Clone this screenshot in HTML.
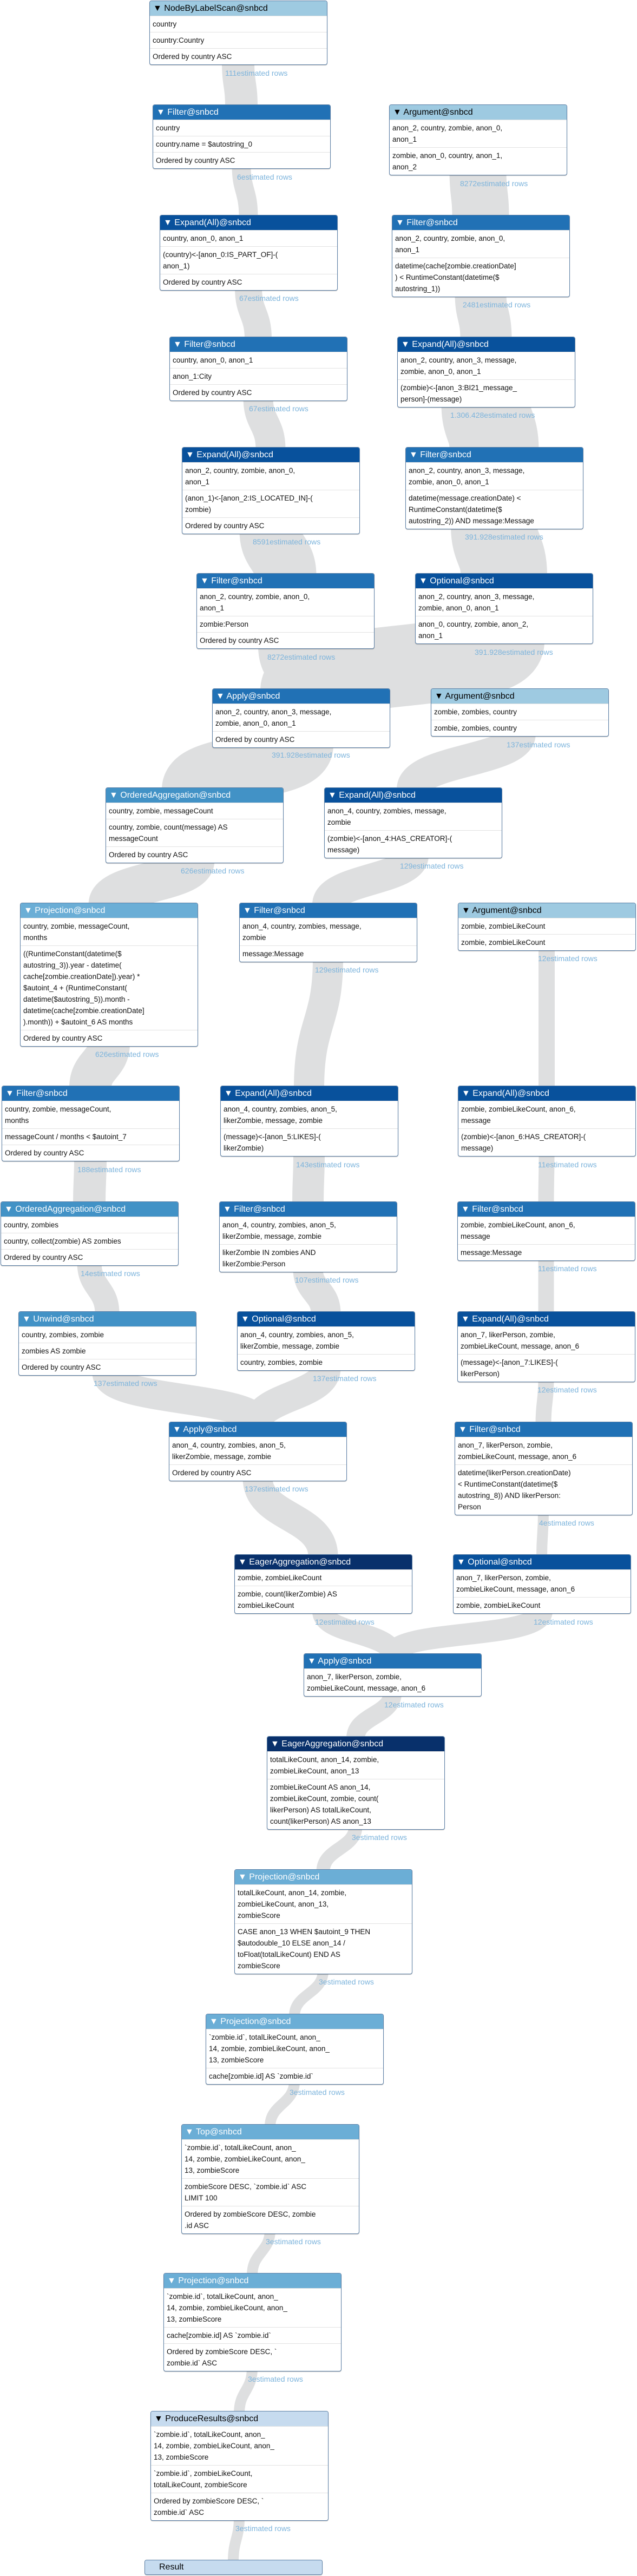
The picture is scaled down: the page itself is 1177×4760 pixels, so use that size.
<!DOCTYPE html>
<html><head><meta charset="utf-8">
<style>
body{margin:0;width:1177px;height:4760px;position:relative;background:#fff;overflow:hidden;font-family:"Liberation Sans",sans-serif}
svg{position:absolute;left:0;top:0}
.n{position:absolute;width:327px;border:1px solid #5b7fa6;border-radius:4px;background:#fff;overflow:hidden;box-shadow:0 1px 1px rgba(0,0,0,.25)}
.h{height:27px;line-height:28px;font-size:16px;padding-left:6px;color:#fff;white-space:nowrap}
.r{padding:4px 5px;line-height:21px;font-size:13.5px;border-top:1px solid #e2e2e2;white-space:nowrap;color:#111}
.c1{background:#9ecae1;color:#000}.c2{background:#2171b5}.c3{background:#08519c}.c4{background:#4292c6}.c5{background:#6baed6}.c6{background:#08306b}.c7{background:#c6dbef;color:#000}
.l{position:absolute;font-size:14px;color:#7db4dc;white-space:nowrap;line-height:18px}
</style></head><body>
<svg width="1177" height="4760" fill="none" stroke="#dedfe0">
<path stroke-width="60" d="M440 115 C440 156,446 156,446 197"/>
<path stroke-width="35" d="M446 307 C446 352,459 352,459 401"/>
<path stroke-width="50" d="M459 532 C459 579,477 579,477 626"/>
<path stroke-width="55" d="M477 735 C477 782,500 782,500 830"/>
<path stroke-width="115" d="M500 981 C500 1022,527 1022,527 1063"/>
<path stroke-width="100" d="M527 1194 C527 1235,556 1235,556 1276"/>
<path stroke-width="105" d="M883 318 C883 358,888 358,888 401"/>
<path stroke-width="95" d="M888 543 C888 582,898 582,898 626"/>
<path stroke-width="165" d="M898 747 C898 787,913 787,913 830"/>
<path stroke-width="160" d="M913 972 C913 1015,931 1015,931 1063"/>
<path stroke-width="150" d="M931 1185 C931 1235,556 1225,556 1276"/>
<path stroke-width="120" d="M556 1377 C556 1420,359 1415,359 1459"/>
<path stroke-width="60" d="M960 1355 C960 1405,763 1405,763 1459"/>
<path stroke-width="75" d="M359 1589 C359 1630,201 1630,201 1672"/>
<path stroke-width="58" d="M763 1580 C763 1625,606 1625,606 1672"/>
<path stroke-width="78" d="M201 1928 C201 1968,167 1968,167 2010"/>
<path stroke-width="56" d="M606 1772 C606 1890,571 1890,571 2010"/>
<path stroke-width="30" d="M1010 1751 C1010 1880,1010 1880,1010 2010"/>
<path stroke-width="60" d="M167 2141 C167 2182,165 2182,165 2224"/>
<path stroke-width="58" d="M571 2132 C571 2178,569 2178,569 2224"/>
<path stroke-width="29" d="M1010 2132 C1010 2178,1009 2178,1009 2224"/>
<path stroke-width="45" d="M165 2333 C165 2380,198 2380,198 2427"/>
<path stroke-width="55" d="M569 2345 C569 2386,602 2386,602 2427"/>
<path stroke-width="29" d="M1009 2324 C1009 2376,1009 2376,1009 2427"/>
<path stroke-width="55" d="M198 2537 C198 2590,476 2580,476 2631"/>
<path stroke-width="55" d="M602 2528 C602 2580,476 2580,476 2631"/>
<path stroke-width="29" d="M1009 2548 C1009 2590,1004 2590,1004 2631"/>
<path stroke-width="55" d="M476 2731 C476 2805,597 2800,597 2876"/>
<path stroke-width="20" d="M1004 2795 C1004 2835,1001 2835,1001 2876"/>
<path stroke-width="40" d="M597 2977 C597 3020,725 3015,725 3059"/>
<path stroke-width="40" d="M1001 2977 C1001 3030,725 3010,725 3059"/>
<path stroke-width="34" d="M725 3129 C725 3170,657 3170,657 3212"/>
<path stroke-width="25" d="M657 3375 C657 3416,597 3416,597 3458"/>
<path stroke-width="20" d="M597 3642 C597 3684,544 3684,544 3725"/>
<path stroke-width="20" d="M544 3846 C544 3888,499 3888,499 3929"/>
<path stroke-width="20" d="M499 4121 C499 4162,466 4162,466 4204"/>
<path stroke-width="20" d="M466 4376 C466 4418,442 4418,442 4459"/>
<path stroke-width="20" d="M442 4652 C442 4692,431 4692,431 4734"/>
</svg>

<div class="n" style="left:276px;top:1px"><div class="h c1">▼ NodeByLabelScan@snbcd</div><div class="r">country</div><div class="r">country:Country</div><div class="r">Ordered by country ASC</div></div>
<div class="l" style="left:416px;top:126px">111estimated rows</div>

<div class="n" style="left:282px;top:193px"><div class="h c2">▼ Filter@snbcd</div><div class="r">country</div><div class="r">country.name = $autostring_0</div><div class="r">Ordered by country ASC</div></div>
<div class="l" style="left:438px;top:318px">6estimated rows</div>

<div class="n" style="left:719px;top:193px"><div class="h c1">▼ Argument@snbcd</div><div class="r">anon_2, country, zombie, anon_0,<br>anon_1</div><div class="r">zombie, anon_0, country, anon_1,<br>anon_2</div></div>
<div class="l" style="left:850px;top:330px">8272estimated rows</div>

<div class="n" style="left:295px;top:397px"><div class="h c3">▼ Expand(All)@snbcd</div><div class="r">country, anon_0, anon_1</div><div class="r">(country)&lt;-[anon_0:IS_PART_OF]-(<br>anon_1)</div><div class="r">Ordered by country ASC</div></div>
<div class="l" style="left:442px;top:542px">67estimated rows</div>

<div class="n" style="left:724px;top:397px"><div class="h c2">▼ Filter@snbcd</div><div class="r">anon_2, country, zombie, anon_0,<br>anon_1</div><div class="r">datetime(cache[zombie.creationDate]<br>) &lt; RuntimeConstant(datetime($<br>autostring_1))</div></div>
<div class="l" style="left:855px;top:554px">2481estimated rows</div>

<div class="n" style="left:313px;top:622px"><div class="h c2">▼ Filter@snbcd</div><div class="r">country, anon_0, anon_1</div><div class="r">anon_1:City</div><div class="r">Ordered by country ASC</div></div>
<div class="l" style="left:460px;top:746px">67estimated rows</div>

<div class="n" style="left:734px;top:622px"><div class="h c3">▼ Expand(All)@snbcd</div><div class="r">anon_2, country, anon_3, message,<br>zombie, anon_0, anon_1</div><div class="r">(zombie)&lt;-[anon_3:BI21_message_<br>person]-(message)</div></div>
<div class="l" style="left:832px;top:758px">1.306.428estimated rows</div>

<div class="n" style="left:336px;top:826px"><div class="h c3">▼ Expand(All)@snbcd</div><div class="r">anon_2, country, zombie, anon_0,<br>anon_1</div><div class="r">(anon_1)&lt;-[anon_2:IS_LOCATED_IN]-(<br>zombie)</div><div class="r">Ordered by country ASC</div></div>
<div class="l" style="left:467px;top:992px">8591estimated rows</div>

<div class="n" style="left:749px;top:826px"><div class="h c2">▼ Filter@snbcd</div><div class="r">anon_2, country, anon_3, message,<br>zombie, anon_0, anon_1</div><div class="r">datetime(message.creationDate) &lt;<br>RuntimeConstant(datetime($<br>autostring_2)) AND message:Message</div></div>
<div class="l" style="left:859px;top:983px">391.928estimated rows</div>

<div class="n" style="left:363px;top:1059px"><div class="h c2">▼ Filter@snbcd</div><div class="r">anon_2, country, zombie, anon_0,<br>anon_1</div><div class="r">zombie:Person</div><div class="r">Ordered by country ASC</div></div>
<div class="l" style="left:494px;top:1205px">8272estimated rows</div>

<div class="n" style="left:767px;top:1059px"><div class="h c3">▼ Optional@snbcd</div><div class="r">anon_2, country, anon_3, message,<br>zombie, anon_0, anon_1</div><div class="r">anon_0, country, zombie, anon_2,<br>anon_1</div></div>
<div class="l" style="left:877px;top:1196px">391.928estimated rows</div>

<div class="n" style="left:392px;top:1272px"><div class="h c2">▼ Apply@snbcd</div><div class="r">anon_2, country, anon_3, message,<br>zombie, anon_0, anon_1</div><div class="r">Ordered by country ASC</div></div>
<div class="l" style="left:502px;top:1386px">391.928estimated rows</div>

<div class="n" style="left:796px;top:1272px"><div class="h c1">▼ Argument@snbcd</div><div class="r">zombie, zombies, country</div><div class="r">zombie, zombies, country</div></div>
<div class="l" style="left:936px;top:1367px">137estimated rows</div>

<div class="n" style="left:195px;top:1455px"><div class="h c4">▼ OrderedAggregation@snbcd</div><div class="r">country, zombie, messageCount</div><div class="r">country, zombie, count(message) AS<br>messageCount</div><div class="r">Ordered by country ASC</div></div>
<div class="l" style="left:334px;top:1600px">626estimated rows</div>

<div class="n" style="left:599px;top:1455px"><div class="h c3">▼ Expand(All)@snbcd</div><div class="r">anon_4, country, zombies, message,<br>zombie</div><div class="r">(zombie)&lt;-[anon_4:HAS_CREATOR]-(<br>message)</div></div>
<div class="l" style="left:739px;top:1591px">129estimated rows</div>

<div class="n" style="left:37px;top:1668px"><div class="h c5">▼ Projection@snbcd</div><div class="r">country, zombie, messageCount,<br>months</div><div class="r">((RuntimeConstant(datetime($<br>autostring_3)).year - datetime(<br>cache[zombie.creationDate]).year) *<br>$autoint_4 + (RuntimeConstant(<br>datetime($autostring_5)).month -<br>datetime(cache[zombie.creationDate]<br>).month)) + $autoint_6 AS months</div><div class="r">Ordered by country ASC</div></div>
<div class="l" style="left:176px;top:1939px">626estimated rows</div>

<div class="n" style="left:442px;top:1668px"><div class="h c2">▼ Filter@snbcd</div><div class="r">anon_4, country, zombies, message,<br>zombie</div><div class="r">message:Message</div></div>
<div class="l" style="left:582px;top:1783px">129estimated rows</div>

<div class="n" style="left:846px;top:1668px"><div class="h c1">▼ Argument@snbcd</div><div class="r">zombie, zombieLikeCount</div><div class="r">zombie, zombieLikeCount</div></div>
<div class="l" style="left:994px;top:1762px">12estimated rows</div>

<div class="n" style="left:3px;top:2006px"><div class="h c2">▼ Filter@snbcd</div><div class="r">country, zombie, messageCount,<br>months</div><div class="r">messageCount / months &lt; $autoint_7</div><div class="r">Ordered by country ASC</div></div>
<div class="l" style="left:143px;top:2152px">188estimated rows</div>

<div class="n" style="left:407px;top:2006px"><div class="h c3">▼ Expand(All)@snbcd</div><div class="r">anon_4, country, zombies, anon_5,<br>likerZombie, message, zombie</div><div class="r">(message)&lt;-[anon_5:LIKES]-(<br>likerZombie)</div></div>
<div class="l" style="left:547px;top:2143px">143estimated rows</div>

<div class="n" style="left:846px;top:2006px"><div class="h c3">▼ Expand(All)@snbcd</div><div class="r">zombie, zombieLikeCount, anon_6,<br>message</div><div class="r">(zombie)&lt;-[anon_6:HAS_CREATOR]-(<br>message)</div></div>
<div class="l" style="left:994px;top:2143px">11estimated rows</div>

<div class="n" style="left:1px;top:2220px"><div class="h c4">▼ OrderedAggregation@snbcd</div><div class="r">country, zombies</div><div class="r">country, collect(zombie) AS zombies</div><div class="r">Ordered by country ASC</div></div>
<div class="l" style="left:149px;top:2344px">14estimated rows</div>

<div class="n" style="left:405px;top:2220px"><div class="h c2">▼ Filter@snbcd</div><div class="r">anon_4, country, zombies, anon_5,<br>likerZombie, message, zombie</div><div class="r">likerZombie IN zombies AND<br>likerZombie:Person</div></div>
<div class="l" style="left:545px;top:2356px">107estimated rows</div>

<div class="n" style="left:845px;top:2220px"><div class="h c2">▼ Filter@snbcd</div><div class="r">zombie, zombieLikeCount, anon_6,<br>message</div><div class="r">message:Message</div></div>
<div class="l" style="left:994px;top:2335px">11estimated rows</div>

<div class="n" style="left:34px;top:2423px"><div class="h c4">▼ Unwind@snbcd</div><div class="r">country, zombies, zombie</div><div class="r">zombies AS zombie</div><div class="r">Ordered by country ASC</div></div>
<div class="l" style="left:173px;top:2547px">137estimated rows</div>

<div class="n" style="left:438px;top:2423px"><div class="h c3">▼ Optional@snbcd</div><div class="r">anon_4, country, zombies, anon_5,<br>likerZombie, message, zombie</div><div class="r">country, zombies, zombie</div></div>
<div class="l" style="left:578px;top:2538px">137estimated rows</div>

<div class="n" style="left:845px;top:2423px"><div class="h c3">▼ Expand(All)@snbcd</div><div class="r">anon_7, likerPerson, zombie,<br>zombieLikeCount, message, anon_6</div><div class="r">(message)&lt;-[anon_7:LIKES]-(<br>likerPerson)</div></div>
<div class="l" style="left:993px;top:2559px">12estimated rows</div>

<div class="n" style="left:312px;top:2627px"><div class="h c2">▼ Apply@snbcd</div><div class="r">anon_4, country, zombies, anon_5,<br>likerZombie, message, zombie</div><div class="r">Ordered by country ASC</div></div>
<div class="l" style="left:452px;top:2742px">137estimated rows</div>

<div class="n" style="left:840px;top:2627px"><div class="h c2">▼ Filter@snbcd</div><div class="r">anon_7, likerPerson, zombie,<br>zombieLikeCount, message, anon_6</div><div class="r">datetime(likerPerson.creationDate)<br>&lt; RuntimeConstant(datetime($<br>autostring_8)) AND likerPerson:<br>Person</div></div>
<div class="l" style="left:996px;top:2805px">4estimated rows</div>

<div class="n" style="left:433px;top:2872px"><div class="h c6">▼ EagerAggregation@snbcd</div><div class="r">zombie, zombieLikeCount</div><div class="r">zombie, count(likerZombie) AS<br>zombieLikeCount</div></div>
<div class="l" style="left:582px;top:2988px">12estimated rows</div>

<div class="n" style="left:837px;top:2872px"><div class="h c3">▼ Optional@snbcd</div><div class="r">anon_7, likerPerson, zombie,<br>zombieLikeCount, message, anon_6</div><div class="r">zombie, zombieLikeCount</div></div>
<div class="l" style="left:986px;top:2988px">12estimated rows</div>

<div class="n" style="left:561px;top:3055px"><div class="h c2">▼ Apply@snbcd</div><div class="r">anon_7, likerPerson, zombie,<br>zombieLikeCount, message, anon_6</div></div>
<div class="l" style="left:710px;top:3141px">12estimated rows</div>

<div class="n" style="left:493px;top:3208px"><div class="h c6">▼ EagerAggregation@snbcd</div><div class="r">totalLikeCount, anon_14, zombie,<br>zombieLikeCount, anon_13</div><div class="r">zombieLikeCount AS anon_14,<br>zombieLikeCount, zombie, count(<br>likerPerson) AS totalLikeCount,<br>count(likerPerson) AS anon_13</div></div>
<div class="l" style="left:650px;top:3386px">3estimated rows</div>

<div class="n" style="left:433px;top:3454px"><div class="h c5">▼ Projection@snbcd</div><div class="r">totalLikeCount, anon_14, zombie,<br>zombieLikeCount, anon_13,<br>zombieScore</div><div class="r">CASE anon_13 WHEN $autoint_9 THEN<br>$autodouble_10 ELSE anon_14 /<br>toFloat(totalLikeCount) END AS<br>zombieScore</div></div>
<div class="l" style="left:589px;top:3653px">3estimated rows</div>

<div class="n" style="left:380px;top:3721px"><div class="h c5">▼ Projection@snbcd</div><div class="r">`zombie.id`, totalLikeCount, anon_<br>14, zombie, zombieLikeCount, anon_<br>13, zombieScore</div><div class="r">cache[zombie.id] AS `zombie.id`</div></div>
<div class="l" style="left:535px;top:3857px">3estimated rows</div>

<div class="n" style="left:335px;top:3925px"><div class="h c5">▼ Top@snbcd</div><div class="r">`zombie.id`, totalLikeCount, anon_<br>14, zombie, zombieLikeCount, anon_<br>13, zombieScore</div><div class="r">zombieScore DESC, `zombie.id` ASC<br>LIMIT 100</div><div class="r">Ordered by zombieScore DESC, zombie<br>.id ASC</div></div>
<div class="l" style="left:491px;top:4133px">3estimated rows</div>

<div class="n" style="left:302px;top:4200px"><div class="h c5">▼ Projection@snbcd</div><div class="r">`zombie.id`, totalLikeCount, anon_<br>14, zombie, zombieLikeCount, anon_<br>13, zombieScore</div><div class="r">cache[zombie.id] AS `zombie.id`</div><div class="r">Ordered by zombieScore DESC, `<br>zombie.id` ASC</div></div>
<div class="l" style="left:458px;top:4387px">3estimated rows</div>

<div class="n" style="left:278px;top:4455px"><div class="h c7">▼ ProduceResults@snbcd</div><div class="r">`zombie.id`, totalLikeCount, anon_<br>14, zombie, zombieLikeCount, anon_<br>13, zombieScore</div><div class="r">`zombie.id`, zombieLikeCount,<br>totalLikeCount, zombieScore</div><div class="r">Ordered by zombieScore DESC, `<br>zombie.id` ASC</div></div>
<div class="l" style="left:435px;top:4663px">3estimated rows</div>

<div class="n" style="left:267px;top:4730px;height:26px;background:#c6dbef"><div class="h c7" style="padding-left:26px;height:26px;line-height:26px">Result</div></div>
</body></html>
